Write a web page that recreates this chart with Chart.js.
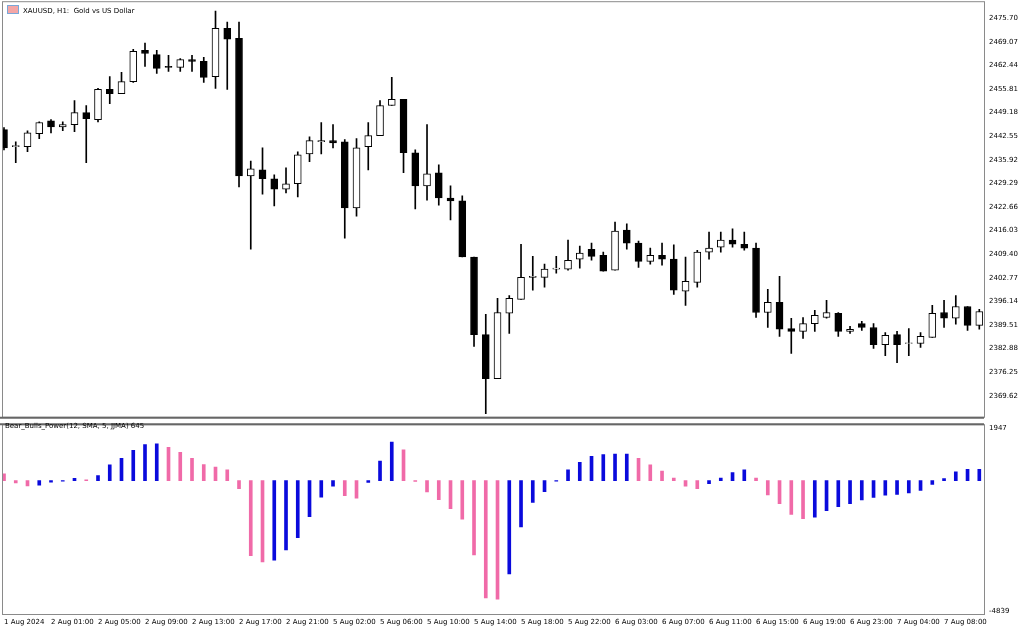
<!DOCTYPE html>
<html>
<head>
<meta charset="utf-8">
<script src="https://cdn.jsdelivr.net/npm/chart.js@4.4.1/dist/chart.umd.min.js"></script>
<style>
  body { margin: 0; background: #fff; width: 1024px; height: 632px; overflow: hidden; font-family: "DejaVu Sans", sans-serif; }
  .pane { position: absolute; left: 0; width: 1024px; }
  .lbl { position: absolute; font-size: 7px; color: #000; white-space: nowrap; }
</style>
</head>
<body>
<div class="pane" style="top:-5px;height:428px"><canvas id="price"></canvas></div>
<div class="pane" style="top:418px;height:214px"><canvas id="power"></canvas></div>
<div class="lbl" style="left:7px;top:5px"><span style="display:inline-block;width:10px;height:7px;background:#f4a6a6;border:1px solid #7aa7d8;vertical-align:-1px;margin-right:4px"></span>XAUUSD, H1:&nbsp; Gold vs US Dollar</div>
<div class="lbl" style="left:5px;top:422px">Bear_Bulls_Power(12, SMA, 5, JJMA) 645</div>
<script>
// hourly XAUUSD candles, 1 Aug 2024 .. 7 Aug 2024
const opens = [2444.4,2439.6,2439.6,2443.3,2446.9,2445.2,2445.8,2449.2,2447.2,2455.7,2454.5,2457.9,2466.7,2465.5,2462.2,2461.9,2464.1,2463.6,2459.3,2472.9,
  2470.1,2431.4,2433.1,2430.6,2427.7,2429.2,2437.6,2441.0,2441.3,2441.0,2422.4,2439.6,2442.7,2451.2,2452.9,2437.9,2428.6,2432.3,2425.2,2424.4,
  2408.6,2386.8,2374.4,2392.8,2396.7,2402.9,2402.9,2405.2,2405.2,2408.0,2410.8,2409.1,2404.9,2416.2,2412.5,2407.4,2409.1,2408.0,2399.0,2401.5,
  2410.0,2411.4,2413.4,2412.2,2411.1,2393.0,2395.9,2388.5,2387.7,2389.9,2391.6,2392.8,2387.7,2389.9,2388.8,2384.0,2386.8,2384.3,2384.3,2386.0,
  2393.0,2391.4,2394.7,2389.4];
const highs = [2445.0,2441.0,2444.1,2446.6,2447.2,2446.6,2452.6,2451.2,2456.0,2459.3,2460.5,2467.0,2468.7,2466.7,2465.3,2464.4,2465.3,2464.7,2477.7,2474.6,
  2474.6,2435.6,2439.3,2431.7,2433.7,2438.2,2442.4,2446.4,2445.8,2441.6,2441.9,2446.4,2452.6,2459.1,2452.9,2438.7,2445.8,2434.5,2428.6,2425.8,
  2408.6,2392.5,2397.0,2397.8,2412.2,2408.8,2406.6,2408.8,2413.4,2411.7,2412.5,2410.0,2418.4,2417.9,2413.1,2411.1,2412.5,2412.0,2408.6,2410.5,
  2415.6,2415.6,2416.5,2415.6,2412.5,2399.5,2403.2,2391.4,2391.6,2393.6,2396.4,2393.0,2389.1,2390.5,2389.9,2387.4,2387.7,2388.5,2387.4,2395.0,
  2396.4,2397.8,2394.7,2393.9];
const lows = [2438.7,2435.1,2438.2,2441.9,2443.5,2444.1,2443.8,2435.1,2446.6,2451.7,2454.5,2457.7,2462.2,2460.2,2460.8,2460.8,2460.8,2457.7,2456.0,2455.7,
  2428.3,2410.8,2426.3,2423.0,2426.6,2425.5,2435.4,2437.6,2439.3,2413.9,2420.1,2433.1,2442.7,2451.2,2432.3,2422.1,2424.6,2423.2,2419.0,2408.6,
  2383.5,2364.6,2374.4,2387.1,2396.7,2399.3,2400.1,2404.1,2404.9,2405.5,2407.7,2404.6,2404.9,2410.8,2405.7,2406.6,2406.3,2398.1,2395.0,2400.1,
  2408.0,2410.0,2411.4,2410.5,2391.6,2388.8,2386.3,2381.5,2385.7,2387.7,2391.4,2386.3,2387.1,2388.0,2382.9,2380.9,2378.9,2380.9,2383.2,2386.0,
  2388.8,2389.7,2388.0,2388.3];
const closes = [2439.3,2439.9,2443.5,2446.4,2445.2,2445.8,2449.2,2447.5,2455.7,2454.5,2457.9,2466.4,2465.8,2461.6,2461.9,2464.1,2463.6,2459.1,2472.9,2469.8,
  2431.4,2433.4,2430.6,2427.7,2429.2,2437.3,2441.3,2441.3,2440.7,2422.4,2439.3,2442.7,2451.2,2452.9,2437.9,2428.6,2432.0,2425.2,2424.4,2408.6,
  2386.8,2374.4,2393.0,2397.0,2402.9,2403.2,2405.2,2405.5,2407.7,2409.7,2408.8,2404.6,2415.9,2412.5,2407.4,2409.1,2408.0,2399.3,2401.8,2410.0,
  2411.1,2413.4,2412.2,2411.1,2393.0,2395.9,2388.3,2387.7,2389.9,2392.2,2393.0,2387.7,2388.3,2388.8,2384.0,2386.6,2384.0,2384.3,2386.3,2392.8,
  2391.4,2394.7,2389.4,2393.3];

// Bear_Bulls_Power histogram; 1 = rising (blue), 0 = falling (pink)
const power = [250,-84,-200,-170,-60,-25,85,25,190,580,830,1120,1335,1360,1230,1050,830,590,505,400,
  -300,-2780,-3020,-2950,-2575,-2120,-1335,-615,-205,-555,-650,-70,720,1430,1140,-35,-420,-710,-1045,-1430,
  -2755,-4355,-4400,-3465,-1720,-805,-410,-20,400,675,900,960,985,985,830,580,350,95,-205,-300,
  -110,95,300,400,95,-530,-855,-1250,-1410,-1360,-1120,-965,-855,-720,-625,-540,-515,-455,-360,-145,
  70,325,420,420];
const powerUp = [0,0,0,1,1,1,1,0,1,1,1,1,1,1,0,0,0,0,0,0,
  0,0,0,1,1,1,1,1,1,0,0,1,1,1,0,0,0,0,0,0,
  0,0,0,1,1,1,1,1,1,1,1,1,1,1,0,0,0,0,0,0,
  1,1,1,1,0,0,0,0,0,1,1,1,1,1,1,1,1,1,1,1,
  1,1,1,1];

const timeLabels = ['1 Aug 2024','2 Aug 01:00','2 Aug 05:00','2 Aug 09:00','2 Aug 13:00','2 Aug 17:00','2 Aug 21:00',
  '5 Aug 02:00','5 Aug 06:00','5 Aug 10:00','5 Aug 14:00','5 Aug 18:00','5 Aug 22:00','6 Aug 03:00','6 Aug 07:00',
  '6 Aug 11:00','6 Aug 15:00','6 Aug 19:00','6 Aug 23:00','7 Aug 04:00','7 Aug 08:00'];
const priceTicks = [2475.70,2469.07,2462.44,2455.81,2449.18,2442.55,2435.92,2429.29,2422.66,2416.03,2409.40,
  2402.77,2396.14,2389.51,2382.88,2376.25,2369.62];
const powerTicks = [1947,-4839];

const FONT = {family: 'DejaVu Sans', size: 7};
Chart.defaults.animation = false;

const frame = {
  id: 'frame',
  afterDraw(c) {
    const {ctx, chartArea: a} = c;
    ctx.save();
    ctx.strokeStyle = '#8a8a8a';
    ctx.lineWidth = 1;
    ctx.strokeRect(a.left + 0.5, a.top + 0.5, a.right - a.left, a.bottom - a.top);
    ctx.strokeStyle = '#666';
    ctx.lineWidth = 2;
    ctx.beginPath();
    ctx.moveTo(0, c.id === 0 ? a.bottom + 1 : a.top);
    ctx.lineTo(a.right, c.id === 0 ? a.bottom + 1 : a.top);
    ctx.stroke();
    ctx.restore();
  }
};

function xAxis(showLabels) {
  return {
    type: 'linear', min: -0.17, max: 83.4, offset: false,
    grid: {display: false, drawTicks: showLabels, tickLength: 3, tickColor: '#333'},
    border: {display: false},
    afterBuildTicks: s => { s.ticks = timeLabels.map((t, i) => ({value: i * 4})); },
    afterFit: s => { s.height = showLabels ? 18 : 0; },
    ticks: {display: showLabels, font: FONT, color: '#000', align: 'start', maxRotation: 0, autoSkip: false, padding: 1,
      callback: (v) => timeLabels[v / 4]}
  };
}

function yAxis(ticks, min, max, fmt) {
  return {
    position: 'right', min, max,
    grid: {display: false, drawTicks: true, tickLength: 3, tickColor: '#333'},
    border: {display: false},
    afterBuildTicks: s => { s.ticks = ticks.map(v => ({value: v})); },
    afterFit: s => { s.width = 40; },
    ticks: {font: FONT, color: '#000', padding: 2, callback: fmt}
  };
}

const idx = opens.map((_, i) => i);
const up = idx.map(i => closes[i] >= opens[i]);

new Chart(document.getElementById('price'), {
  type: 'bar',
  data: {
    datasets: [
      {
        data: idx.map(i => ({x: i, y: [lows[i], highs[i]]})),
        backgroundColor: '#000', barThickness: 1, grouped: false, order: 2
      },
      {
        data: idx.map(i => ({x: i, y: [opens[i], closes[i] === opens[i] ? closes[i] + 0.2 : closes[i]]})),
        backgroundColor: up.map(u => u ? '#fff' : '#000'),
        borderColor: '#000', borderWidth: 1, borderSkipped: false,
        barThickness: 7, grouped: false, order: 1
      }
    ]
  },
  options: {
    responsive: true, maintainAspectRatio: false,
    layout: {autoPadding: false, padding: {left: 2, top: 2, right: 0, bottom: 2}},
    plugins: {legend: {display: false}, tooltip: {enabled: false}},
    scales: {
      x: xAxis(false),
      y: yAxis(priceTicks, 2363.7, 2480.5, v => v.toFixed(2))
    }
  },
  plugins: [frame]
});

new Chart(document.getElementById('power'), {
  type: 'bar',
  data: {
    datasets: [{
      data: idx.map(i => ({x: i, y: power[i]})),
      backgroundColor: idx.map(i => powerUp[i] ? '#0a0adc' : '#f06aa8'),
      barThickness: 3, grouped: false
    }]
  },
  options: {
    responsive: true, maintainAspectRatio: false,
    layout: {autoPadding: false, padding: {left: 2, top: 1, right: 0, bottom: 0}},
    plugins: {legend: {display: false}, tooltip: {enabled: false}},
    scales: {
      x: xAxis(true),
      y: yAxis(powerTicks, -4947, 2091, v => String(v))
    }
  },
  plugins: [frame]
});
</script>
</body>
</html>
